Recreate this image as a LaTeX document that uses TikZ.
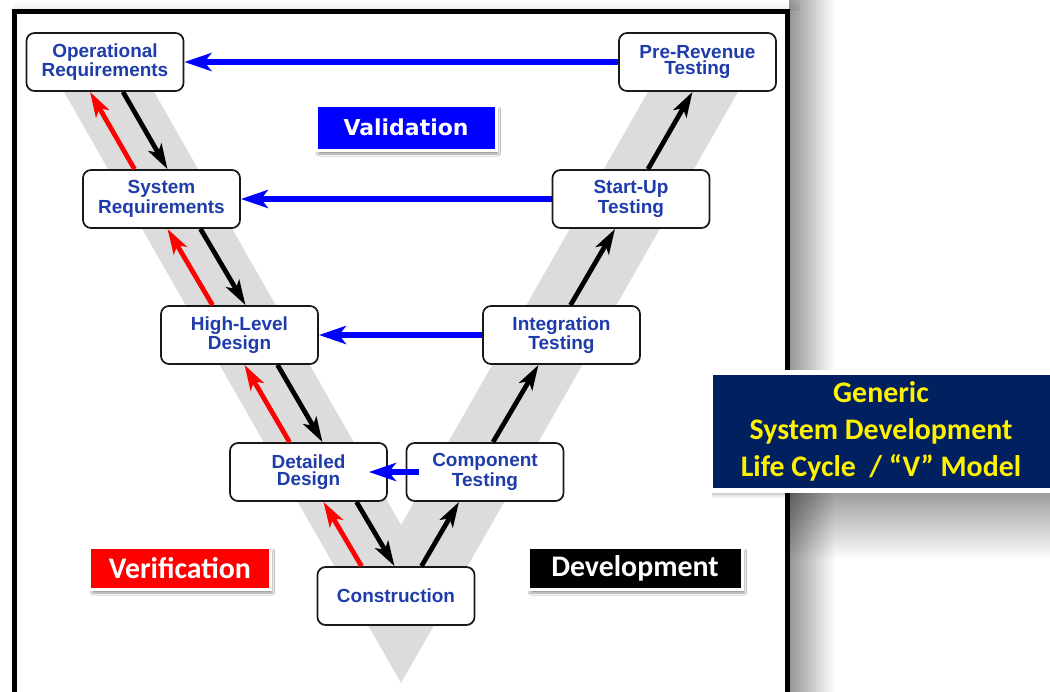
\documentclass[tikz,border=0pt]{standalone}
\usepackage{fontspec}
\setmainfont{Liberation Sans}
\newfontfamily\calib{Carlito}
\newfontfamily\dejav{DejaVu Sans}
\usetikzlibrary{arrows.meta,calc,shadows.blur,fadings}
\definecolor{vtext}{RGB}{30,60,170}
\definecolor{vband}{RGB}{220,220,220}
\definecolor{vnavy}{RGB}{0,32,96}

\begin{document}
\begin{tikzpicture}[x=0.2mm,y=-0.2mm,
phase/.style={draw=black!90,line width=0.35mm,rounded corners=1.6mm,fill=white,
 minimum width=31.4mm,minimum height=11.6mm,align=center,text=vtext,
 font=\fontsize{10.8}{9.6}\selectfont\bfseries},
tag/.style={draw=white,line width=0.6mm,text=white,minimum height=8.4mm,
 font=\calib\fontsize{17}{20}\selectfont\bfseries,
 blur shadow={shadow xshift=0.5mm,shadow yshift=-0.8mm,shadow blur radius=0.4mm,shadow opacity=40}},
dev/.style={line width=0.95mm,-{Stealth[length=5mm,width=3mm,inset=1.2mm]}},
ver/.style={dev,red},
val/.style={blue,line width=1.2mm,-{Stealth[length=5.4mm,width=3.6mm,inset=1.4mm]}}]

 \useasboundingbox (0,0) rectangle (1050,692);
 \clip (0,0) rectangle (1050,692);
 % frame and its shadow
 \fill[black,opacity=.42,path fading=east] (789,0) rectangle (835,692);
 \fill[black,opacity=.08,path fading=north] (14,0) rectangle (800,11);
 \draw[line width=1mm,fill=white] (14,11.5) rectangle (787,760);
 % the V
 \fill[vband] (34.5,40) -- (401,683) -- (767.5,40) -- (677.5,40) -- (401,525) -- (124.5,40) -- cycle;

 \node[phase] (opreq) at (105,62) {Operational\\Requirements};
 \node[phase] (sysreq) at (161.5,199) {System\\Requirements};
 \node[phase] (hld) at (239.5,335) {High-Level\\Design};
 \node[phase] (detail) at (308.5,472) {Detailed\\Design};
 \node[phase] (constr) at (396,596) {Construction};
 \node[phase] (comp) at (485,472) {Component\\Testing};
 \node[phase] (integ) at (561.5,335) {Integration\\Testing};
 \node[phase] (startup) at (631,199) {Start-Up\\Testing};
 \node[phase] (prerev) at (697.5,62) {Pre-Revenue\\Testing};

 % development
 \foreach \a/\da/\b/\db in {opreq/18/sysreq/6,sysreq/39/hld/6,hld/38/detail/14,detail/48/constr/-1.5}
  {\draw[dev] ($(\a.south)+(\da,0)$) -- ($(\b.north)+(\db,0)$);}
 \foreach \a/\da/\b/\db in {constr/25.5/comp/-26,comp/8/integ/-23,integ/9/startup/-16,startup/17/prerev/-5}
  {\draw[dev] ($(\a.north)+(\da,0)$) -- ($(\b.south)+(\db,0)$);}
 % verification
 \foreach \a/\da/\b/\db in {sysreq/-27/opreq/-15,hld/-27/sysreq/6,detail/-19/hld/5,constr/-34.5/detail/15}
  {\draw[ver] ($(\a.north)+(\da,0)$) -- ($(\b.south)+(\db,0)$);}
 % validation
 \draw[val] (prerev.west) -- (opreq.east);
 \draw[val] (startup.west) -- (sysreq.east);
 \draw[val] (integ.west) -- (hld.east);
 \draw[val,shorten <=-2.6mm,shorten >=-3.8mm] (comp.west) -- (detail.east);

 \node[tag,fill=blue,minimum width=36mm,minimum height=9mm,font=\dejav\fontsize{12.5}{15}\selectfont\bfseries]
  (valtag) at (406,127.5) {Validation};
 \node[tag,fill=red,minimum width=36mm] (vertag) at (180,568) {Verification};
 \node[tag,fill=black,minimum width=42.8mm] (devtag) at (635,568) {Development};

 % title and its shadow
 \fill[black,opacity=.4,path fading=south] (790,490) rectangle (1050,560);
 \fill[black,opacity=.3,path fading=south] (712,490) rectangle (785,498);
 \node[fill=vnavy,draw=white,line width=1mm,text=yellow,align=center,
  font=\calib\fontsize{17}{21}\selectfont\bfseries,minimum width=68.4mm,minimum height=23.6mm]
  (title) at (881,431) {Generic\\System Development\\Life Cycle~~/ “V” Model};
\end{tikzpicture}
\end{document}
